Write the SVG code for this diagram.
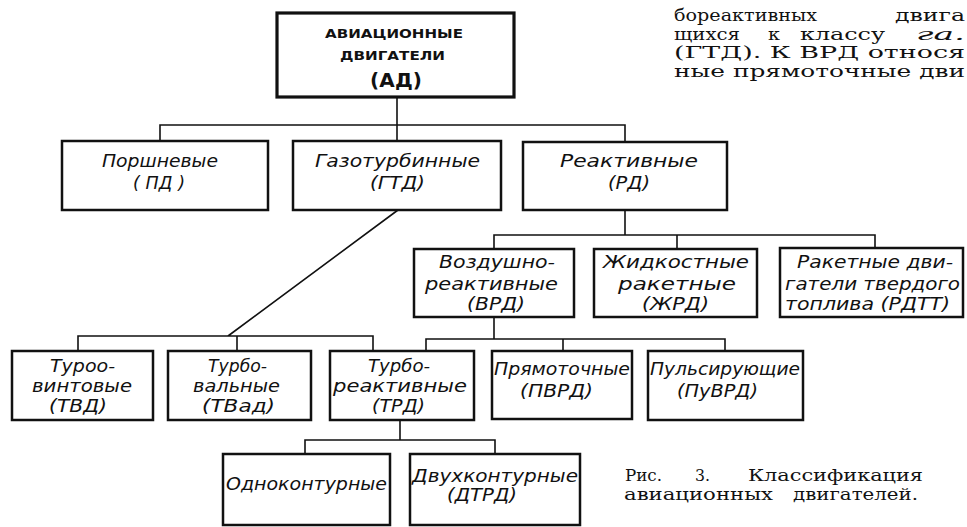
<svg xmlns="http://www.w3.org/2000/svg" width="967" height="527" viewBox="0 0 967 527">
<style>
.bg{fill:#fff}
.box{fill:#fff;stroke:#111;stroke-width:2.5}
.boxt{fill:#fff;stroke:#111;stroke-width:3.2}
.conn{fill:none;stroke:#111;stroke-width:1.6}
.t{font-family:"DejaVu Sans","Liberation Sans",sans-serif;font-style:italic;font-size:17.5px;fill:#111}
.tb{font-family:"DejaVu Sans","Liberation Sans",sans-serif;font-weight:bold;font-size:13px;fill:#111}
.tbl{font-family:"DejaVu Sans","Liberation Sans",sans-serif;font-weight:bold;font-size:20px;fill:#111}
.s{font-family:"DejaVu Serif","Liberation Serif",serif;font-size:17.5px;fill:#111}
.i{font-style:italic}
</style>
<rect class="bg" x="0" y="0" width="967" height="527"/>

<g id="connectors">
<path class="conn" d="M397 97V141M160 141V125H625V142"/>
<path class="conn" d="M398 210L228 336M78 351V336H373V351M237 336V351"/>
<path class="conn" d="M625 210V235M494 249V235H875V248M677 235V249"/>
<path class="conn" d="M494 317V339M426 351V339H725V351M563 339V351"/>
<path class="conn" d="M400 420V440M305 454V440H495V454"/>
</g>

<g id="node-ad">
<rect class="boxt" x="277" y="13" width="237" height="84"/>
<text class="tb" x="325" y="38" textLength="138" lengthAdjust="spacingAndGlyphs">АВИАЦИОННЫЕ</text>
<text class="tb" x="340" y="60" textLength="105" lengthAdjust="spacingAndGlyphs">ДВИГАТЕЛИ</text>
<text class="tbl" x="370" y="87" textLength="52" lengthAdjust="spacing">(АД)</text>
</g>

<g id="node-pd">
<rect class="box" x="62" y="141" width="206" height="69"/>
<text class="t" x="102" y="167" textLength="116" lengthAdjust="spacingAndGlyphs">Поршневые</text>
<text class="t" x="133" y="189" textLength="52" lengthAdjust="spacing">( ПД )</text>
</g>

<g id="node-gtd">
<rect class="box" x="293" y="141" width="208" height="69"/>
<text class="t" x="315" y="167" textLength="165" lengthAdjust="spacingAndGlyphs">Газотурбинные</text>
<text class="t" x="370" y="189" textLength="55" lengthAdjust="spacingAndGlyphs">(ГТД)</text>
</g>

<g id="node-rd">
<rect class="box" x="523" y="142" width="204" height="68"/>
<text class="t" x="560" y="167" textLength="138" lengthAdjust="spacingAndGlyphs">Реактивные</text>
<text class="t" x="608" y="189" textLength="42" lengthAdjust="spacingAndGlyphs">(РД)</text>
</g>

<g id="node-vrd">
<rect class="box" x="414" y="249" width="160" height="68"/>
<text class="t" x="439" y="268" textLength="116" lengthAdjust="spacingAndGlyphs">Воздушно-</text>
<text class="t" x="425" y="290" textLength="133" lengthAdjust="spacingAndGlyphs">реактивные</text>
<text class="t" x="467" y="310" textLength="58" lengthAdjust="spacingAndGlyphs">(ВРД)</text>
</g>

<g id="node-zhrd">
<rect class="box" x="594" y="249" width="163" height="68"/>
<text class="t" x="603" y="268" textLength="146" lengthAdjust="spacingAndGlyphs">Жидкостные</text>
<text class="t" x="618" y="290" textLength="118" lengthAdjust="spacingAndGlyphs">ракетные</text>
<text class="t" x="642" y="310" textLength="67" lengthAdjust="spacingAndGlyphs">(ЖРД)</text>
</g>

<g id="node-rdtt">
<rect class="box" x="780" y="248" width="183" height="69"/>
<text class="t" x="797" y="268" textLength="156" lengthAdjust="spacingAndGlyphs">Ракетные дви-</text>
<text class="t" x="785" y="290" textLength="175" lengthAdjust="spacingAndGlyphs">гатели твердого</text>
<text class="t" x="785" y="310" textLength="165" lengthAdjust="spacingAndGlyphs">топлива (РДТТ)</text>
</g>

<g id="node-tvd">
<rect class="box" x="12" y="351" width="141" height="69"/>
<text class="t" x="50" y="372" textLength="65" lengthAdjust="spacingAndGlyphs">Туроо-</text>
<text class="t" x="32" y="392" textLength="100" lengthAdjust="spacingAndGlyphs">винтовые</text>
<text class="t" x="49" y="412" textLength="58" lengthAdjust="spacingAndGlyphs">(ТВД)</text>
</g>

<g id="node-tvad">
<rect class="box" x="168" y="351" width="143" height="69"/>
<text class="t" x="208" y="372" textLength="59" lengthAdjust="spacingAndGlyphs">Турбо-</text>
<text class="t" x="193" y="392" textLength="87" lengthAdjust="spacingAndGlyphs">вальные</text>
<text class="t" x="202" y="412" textLength="73" lengthAdjust="spacingAndGlyphs">(ТВад)</text>
</g>

<g id="node-trd">
<rect class="box" x="330" y="351" width="144" height="69"/>
<text class="t" x="368" y="372" textLength="62" lengthAdjust="spacingAndGlyphs">Турбо-</text>
<text class="t" x="333" y="392" textLength="134" lengthAdjust="spacingAndGlyphs">реактивные</text>
<text class="t" x="372" y="412" textLength="53" lengthAdjust="spacingAndGlyphs">(ТРД)</text>
</g>

<g id="node-pvrd">
<rect class="box" x="492" y="351" width="140" height="68"/>
<text class="t" x="494" y="375" textLength="136" lengthAdjust="spacingAndGlyphs">Прямоточные</text>
<text class="t" x="520" y="397" textLength="73" lengthAdjust="spacingAndGlyphs">(ПВРД)</text>
</g>

<g id="node-puvrd">
<rect class="box" x="648" y="351" width="155" height="69"/>
<text class="t" x="650" y="375" textLength="150" lengthAdjust="spacingAndGlyphs">Пульсирующие</text>
<text class="t" x="677" y="397" textLength="81" lengthAdjust="spacingAndGlyphs">(ПуВРД)</text>
</g>

<g id="node-odno">
<rect class="box" x="223" y="454" width="167" height="71"/>
<text class="t" x="226" y="490" textLength="161" lengthAdjust="spacingAndGlyphs">Одноконтурные</text>
</g>

<g id="node-dtrd">
<rect class="box" x="410" y="454" width="170" height="71"/>
<text class="t" x="412" y="482" textLength="166" lengthAdjust="spacingAndGlyphs">Двухконтурные</text>
<text class="t" x="447" y="501" textLength="70" lengthAdjust="spacingAndGlyphs">(ДТРД)</text>
</g>

<text id="paragraph" class="s"><tspan x="674" y="21" textLength="143" lengthAdjust="spacingAndGlyphs">бореактивных</tspan><tspan x="895" y="21" textLength="70" lengthAdjust="spacingAndGlyphs">двига</tspan><tspan x="674" y="39.5" textLength="66" lengthAdjust="spacingAndGlyphs">щихся</tspan><tspan x="768" y="39.5" textLength="12" lengthAdjust="spacingAndGlyphs">к</tspan><tspan x="800" y="39.5" textLength="85" lengthAdjust="spacingAndGlyphs">классу</tspan><tspan class="i" x="916" y="39.5" textLength="49" lengthAdjust="spacingAndGlyphs">га.</tspan><tspan x="674" y="58" textLength="291" lengthAdjust="spacingAndGlyphs">(ГТД). К ВРД относя</tspan><tspan x="674" y="76.5" textLength="291" lengthAdjust="spacingAndGlyphs">ные прямоточные дви</tspan></text>

<text id="caption" class="s"><tspan x="625" y="481" textLength="37" lengthAdjust="spacingAndGlyphs">Рис.</tspan><tspan x="695" y="481" textLength="15" lengthAdjust="spacingAndGlyphs">3.</tspan><tspan x="748" y="481" textLength="175" lengthAdjust="spacingAndGlyphs">Классификация</tspan><tspan x="624" y="500" textLength="149" lengthAdjust="spacingAndGlyphs">авиационных</tspan><tspan x="793" y="500" textLength="125" lengthAdjust="spacingAndGlyphs">двигателей.</tspan></text>
</svg>
